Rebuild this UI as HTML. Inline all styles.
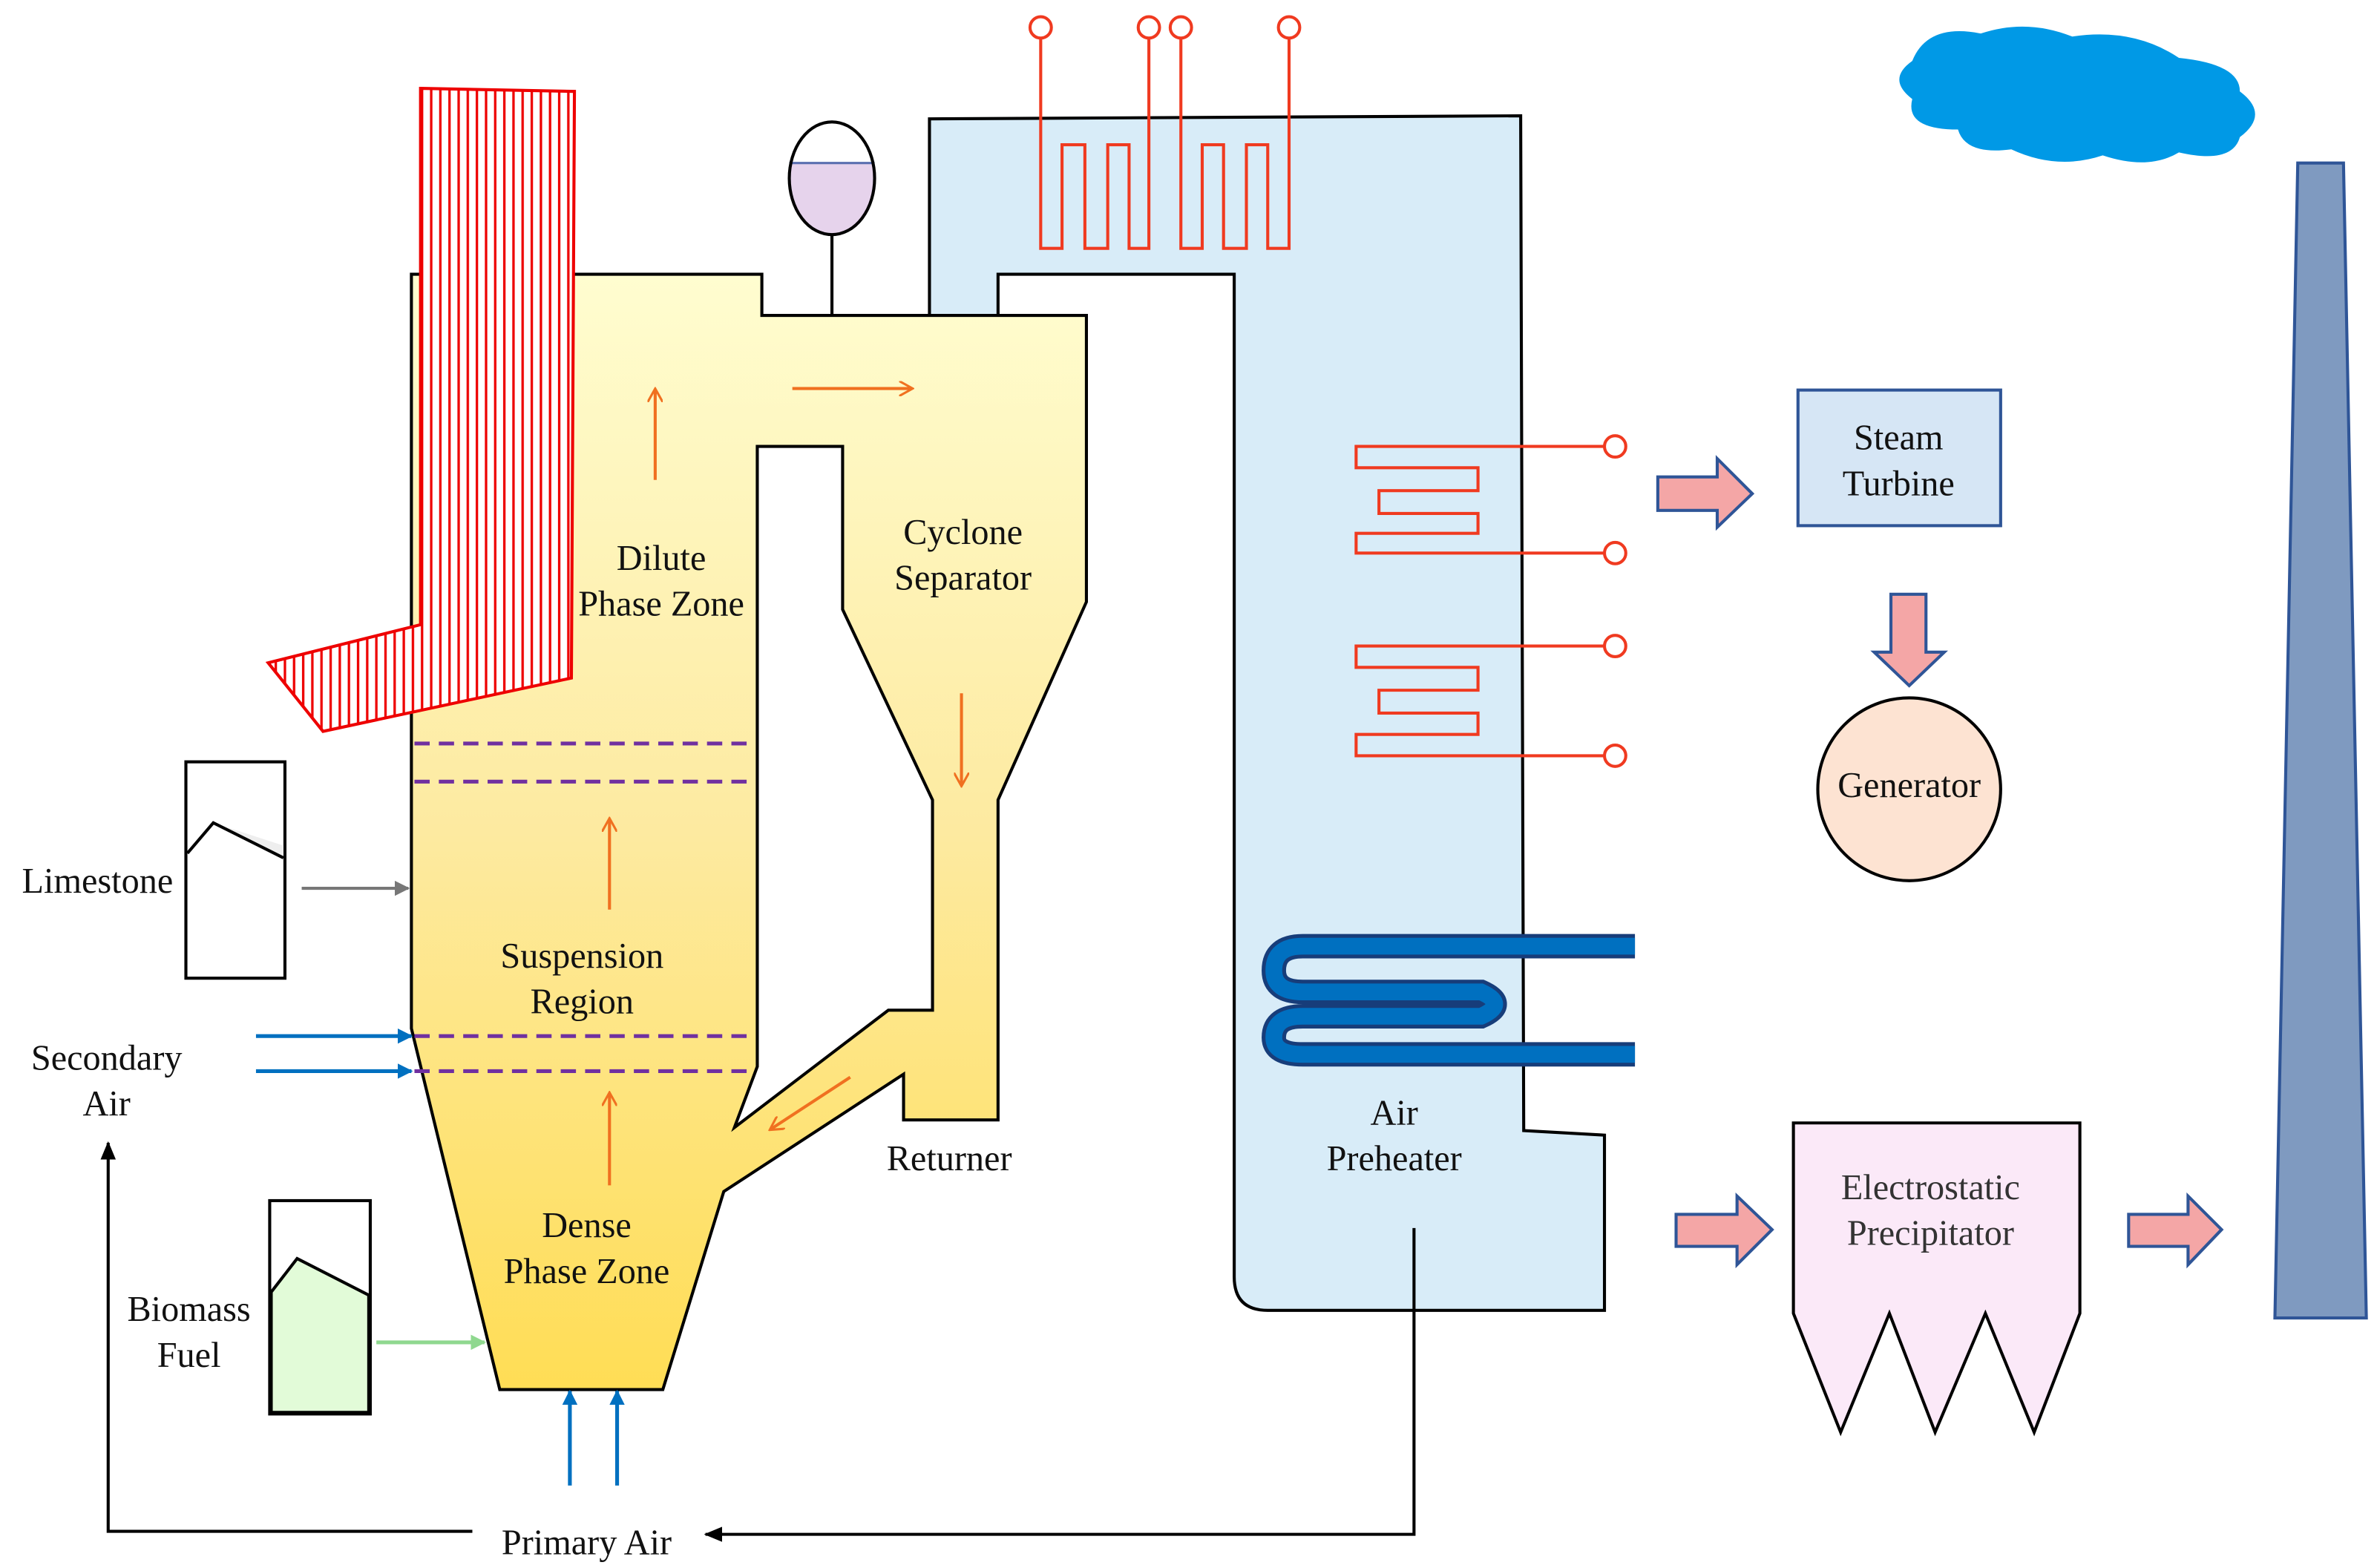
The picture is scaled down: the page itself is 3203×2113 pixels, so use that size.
<!DOCTYPE html>
<html><head><meta charset="utf-8"><style>
html,body{margin:0;padding:0;background:#fff}
svg{display:block}
text{font-family:"Liberation Serif",serif;font-size:23.5px;fill:#111;text-anchor:middle}
</style></head><body>
<svg width="3203" height="2113" viewBox="0 0 1560 1029.1" preserveAspectRatio="none" xmlns="http://www.w3.org/2000/svg">
<defs>
<linearGradient id="yg" x1="0" y1="0" x2="0" y2="1">
<stop offset="0" stop-color="#fffdd0"/><stop offset="0.5" stop-color="#fdeaa0"/><stop offset="1" stop-color="#ffdd55"/>
</linearGradient>
<pattern id="hatch" width="6" height="10" patternUnits="userSpaceOnUse">
<rect width="6" height="10" fill="#fff"/><line x1="1" y1="0" x2="1" y2="10" stroke="#e00" stroke-width="1.6"/>
</pattern>
<marker id="ao" markerWidth="10" markerHeight="10" refX="8" refY="5" orient="auto" markerUnits="userSpaceOnUse"><path d="M0,0 L9,5 L0,10" fill="none" stroke="#f07020" stroke-width="1.5"/></marker>
<marker id="ab" markerWidth="10" markerHeight="10" refX="9" refY="5" orient="auto" markerUnits="userSpaceOnUse"><path d="M0,0 L10,5 L0,10 Z" fill="#0070c0"/></marker>
<marker id="ag" markerWidth="10" markerHeight="10" refX="9" refY="5" orient="auto" markerUnits="userSpaceOnUse"><path d="M0,0 L10,5 L0,10 Z" fill="#777"/></marker>
<marker id="agr" markerWidth="10" markerHeight="10" refX="9" refY="5" orient="auto" markerUnits="userSpaceOnUse"><path d="M0,0 L10,5 L0,10 Z" fill="#8fd88f"/></marker>
<marker id="ak" markerWidth="12" markerHeight="10" refX="11" refY="5" orient="auto" markerUnits="userSpaceOnUse"><path d="M0,0 L12,5 L0,10 Z" fill="#000"/></marker>
</defs>

<path d="M610,78 L998,76 L1000,742 L1053,745 L1053,860 L832,860 Q810,860 810,838 L810,180 L655,180 L655,207 L610,207 Z" fill="#d8ecf8" stroke="#000" stroke-width="2"/>

<path fill-rule="evenodd" d="M270,180 L500,180 L500,207 L713,207 L713,395 L655,525 L655,735 L593,735 L593,705 L475,782 L435,912 L328,912 L270,675 Z M497,293 L553,293 L553,400 L612,525 L612,663 L583,663 L482,740 L497,700 Z" fill="url(#yg)" stroke="#000" stroke-width="2"/>

<polygon points="276,58 377,60 375,445 212,480 176,435 276,410" fill="url(#hatch)" stroke="#e00" stroke-width="2"/>

<g stroke="#7030a0" stroke-width="2.5" stroke-dasharray="10,6">
<line x1="272" y1="488" x2="495" y2="488"/><line x1="272" y1="513" x2="495" y2="513"/>
<line x1="272" y1="680" x2="492" y2="680"/><line x1="272" y1="703" x2="490" y2="703"/>
</g>

<line x1="546" y1="154" x2="546" y2="207" stroke="#000" stroke-width="2"/>
<clipPath id="dc"><ellipse cx="546" cy="117" rx="28" ry="37"/></clipPath>
<rect x="516" y="107" width="60" height="50" fill="#e6d3ec" clip-path="url(#dc)"/>
<line x1="518" y1="107" x2="574" y2="107" stroke="#5a6fb0" stroke-width="1.5"/>
<ellipse cx="546" cy="117" rx="28" ry="37" fill="none" stroke="#000" stroke-width="2"/>

<g fill="none" stroke="#f03a20" stroke-width="2">
<polyline points="683,25 683,163 697,163 697,95 712,95 712,163 727,163 727,95 741,95 741,163 754,163 754,25"/>
<polyline points="775,25 775,163 789,163 789,95 803,95 803,163 818,163 818,95 832,95 832,163 846,163 846,25"/>
<polyline points="1053,293 890,293 890,307 970,307 970,322 905,322 905,337 970,337 970,350 890,350 890,363 1053,363"/>
<polyline points="1053,424 890,424 890,438 970,438 970,453 905,453 905,468 970,468 970,482 890,482 890,496 1053,496"/>
</g>
<g fill="#fff" stroke="#f03a20" stroke-width="2">
<circle cx="683" cy="18" r="7"/><circle cx="754" cy="18" r="7"/><circle cx="775" cy="18" r="7"/><circle cx="846" cy="18" r="7"/>
<circle cx="1060" cy="293" r="7"/><circle cx="1060" cy="363" r="7"/><circle cx="1060" cy="424" r="7"/><circle cx="1060" cy="496" r="7"/>
</g>

<path d="M1073,621 H855 Q836,621 836,637 Q836,651 855,651 H972 Q990,659 972,667 H855 Q836,667 836,681 Q836,692 855,692 H1073" fill="none" stroke="#173d7a" stroke-width="16"/>
<path d="M1073,621 H855 Q836,621 836,637 Q836,651 855,651 H972 Q990,659 972,667 H855 Q836,667 836,681 Q836,692 855,692 H1073" fill="none" stroke="#0070c0" stroke-width="11"/>

<g stroke="#f07020" stroke-width="2" marker-end="url(#ao)">
<line x1="430" y1="315" x2="430" y2="256"/><line x1="520" y1="255" x2="598" y2="255"/>
<line x1="631" y1="455" x2="631" y2="515"/><line x1="400" y1="597" x2="400" y2="538"/>
<line x1="400" y1="778" x2="400" y2="718"/><line x1="558" y1="707" x2="506" y2="741"/>
</g>

<rect x="122" y="500" width="65" height="142" fill="#fff" stroke="#000" stroke-width="2"/>
<polygon points="140,540 186,563 186,555 140,540" fill="#eee"/>
<polyline points="123,560 140,540 186,563" fill="none" stroke="#000" stroke-width="2"/>
<rect x="177" y="788" width="66" height="140" fill="#fff" stroke="#000" stroke-width="2"/>
<polygon points="178,848 195,826 242,850 242,927 178,927" fill="#e2fbd8" stroke="#000" stroke-width="2"/>
<line x1="198" y1="583" x2="268" y2="583" stroke="#777" stroke-width="2" marker-end="url(#ag)"/>
<line x1="247" y1="881" x2="318" y2="881" stroke="#8fd88f" stroke-width="2.5" marker-end="url(#agr)"/>
<g stroke="#0070c0" stroke-width="2.5" marker-end="url(#ab)">
<line x1="168" y1="680" x2="270" y2="680"/><line x1="168" y1="703" x2="270" y2="703"/>
<line x1="374" y1="975" x2="374" y2="913"/><line x1="405" y1="975" x2="405" y2="913"/>
</g>
<polyline points="928,806 928,1007 463,1007" fill="none" stroke="#000" stroke-width="2" marker-end="url(#ak)"/>
<polyline points="310,1005 71,1005 71,750" fill="none" stroke="#000" stroke-width="2" marker-end="url(#ak)"/>

<rect x="1180" y="256" width="133" height="89" fill="#d6e6f5" stroke="#2f5597" stroke-width="2"/>
<circle cx="1253" cy="518" r="60" fill="#fde3d2" stroke="#000" stroke-width="2"/>
<polygon points="1177,737 1365,737 1365,862 1335,940 1303,862 1270,940 1240,862 1208,940 1177,862" fill="#fbe9f8" stroke="#000" stroke-width="2"/>
<polygon points="1508,107 1538,107 1553,865 1493,865" fill="#7f9ac0" stroke="#2f5597" stroke-width="2"/>
<g fill="#f4a6a6" stroke="#2f5597" stroke-width="2">
<polygon points="1088,313 1127,313 1127,301 1150,324 1127,346 1127,335 1088,335"/>
<polygon points="1241,390 1264,390 1264,428 1276,428 1253,450 1230,428 1241,428"/>
<polygon points="1100,797 1140,797 1140,785 1163,807 1140,830 1140,818 1100,818"/>
<polygon points="1397,797 1436,797 1436,785 1458,807 1436,830 1436,818 1397,818"/>
</g>
<path d="M1255,40 Q1265,15 1300,22 Q1330,12 1360,24 Q1400,18 1430,38 Q1470,42 1470,60 Q1490,75 1470,90 Q1465,108 1430,100 Q1410,112 1380,102 Q1350,112 1320,98 Q1290,102 1285,85 Q1250,85 1255,65 Q1238,52 1255,40 Z" fill="#0099e6"/>

<text x="434" y="374">Dilute</text><text x="434" y="404">Phase Zone</text>
<text x="632" y="357">Cyclone</text><text x="632" y="387">Separator</text>
<text x="382" y="635">Suspension</text><text x="382" y="665">Region</text>
<text x="385" y="812">Dense</text><text x="385" y="842">Phase Zone</text>
<text x="623" y="768">Returner</text>
<text x="915" y="738">Air</text><text x="915" y="768">Preheater</text>
<text x="1246" y="295">Steam</text><text x="1246" y="325">Turbine</text>
<text x="1253" y="523">Generator</text>
<text x="1267" y="787" style="fill:#333">Electrostatic</text><text x="1267" y="817" style="fill:#333">Precipitator</text>
<text x="64" y="586">Limestone</text>
<text x="70" y="702">Secondary</text><text x="70" y="732">Air</text>
<text x="124" y="867">Biomass</text><text x="124" y="897">Fuel</text>
<text x="385" y="1020">Primary Air</text>
</svg>
</body></html>
